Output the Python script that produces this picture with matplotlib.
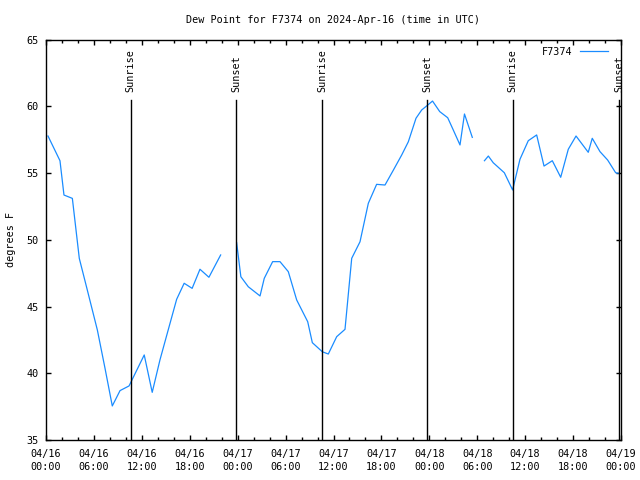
import matplotlib
matplotlib.use("Agg")
import matplotlib.pyplot as plt
import matplotlib.dates as mdates
import matplotlib.transforms as mtransforms
import numpy as np
import pandas as pd

# hours after 2024-04-16 00:00 UTC, NaN marks a gap in the record
hours = [0.25, 1.75, 2.25, 3.3, 4.17, 5.17, 6.43, 7.39, 8.3, 9.27, 10.4, 12.3,
         13.3, 14.27, 15.3, 16.36, 17.3, 18.3, 19.28, 20.4, 21.87,
         22.8,
         23.87, 24.4, 25.33, 26.8, 27.33, 28.38, 29.3, 30.34, 31.39, 32.77,
         33.35, 34.6, 35.35, 36.4, 37.44, 38.28, 39.32, 40.36, 41.4, 42.45,
         43.5, 44.54, 45.37, 46.33, 47.04, 47.8, 48.4, 49.3, 50.3, 51.0,
         51.84, 52.4, 53.38,
         54.2,
         54.9, 55.39, 56.0, 57.39, 58.43, 59.35, 60.39, 61.44, 62.36, 63.4,
         64.45, 65.4, 66.37, 67.9, 68.4, 69.37, 70.33, 71.33, 71.65]
dewpoint = [57.77, 55.92, 53.35, 53.1, 48.6, 46.24, 43.24, 40.37, 37.55, 38.7,
            39.05, 41.37, 38.57, 41.0, 43.24, 45.54, 46.74, 46.36, 47.79,
            47.19, 48.86,
            np.nan,
            49.78, 47.23, 46.48, 45.79, 47.11, 48.36, 48.36, 47.61, 45.49,
            43.86, 42.29, 41.61, 41.44, 42.74, 43.29, 48.61, 49.85, 52.73,
            54.15, 54.1, 55.22, 56.35, 57.34, 59.1, 59.72, 60.09, 60.39, 59.6,
            59.14, 58.22, 57.1, 59.42, 57.67,
            np.nan,
            55.92, 56.27, 55.77, 55.02, 53.73, 56.03, 57.42, 57.85, 55.52,
            55.92, 54.68, 56.78, 57.77, 56.55, 57.6, 56.6, 55.97, 55.02, 54.98]

sunrise_hours = [10.6, 34.55, 58.45]
sunset_hours = [23.8, 47.75, 71.75]

start = pd.Timestamp("2024-04-16 00:00")
times = start + pd.to_timedelta(hours, unit="h")
sunrise = start + pd.to_timedelta(sunrise_hours, unit="h")
sunset = start + pd.to_timedelta(sunset_hours, unit="h")

plt.rcParams['font.family'] = 'DejaVu Sans Mono'
plt.rcParams['font.size'] = 7.3

fig = plt.figure(figsize=(6.4, 4.8), dpi=100)
ax = fig.add_axes([46 / 640, 40 / 480, 575 / 640, 400.5 / 480])

ax.plot(times, dewpoint, color='#1a8cff', lw=0.9, label='F7374')

trans = mtransforms.blended_transform_factory(ax.transData, ax.transAxes)
for t in sunrise:
    ax.axvline(t, ymin=0, ymax=0.85, color='black', lw=1)
    ax.text(t, 0.87, 'Sunrise', transform=trans, rotation=90,
            ha='center', va='bottom')
for t in sunset:
    ax.axvline(t, ymin=0, ymax=0.85, color='black', lw=1)
    ax.text(t, 0.87, 'Sunset', transform=trans, rotation=90,
            ha='center', va='bottom')

ax.set_xlim(start, start + pd.Timedelta(hours=72))
ax.set_ylim(35, 65)
ax.set_yticks(np.arange(35, 66, 5))
ax.xaxis.set_major_locator(mdates.HourLocator(byhour=[0, 6, 12, 18]))
ax.xaxis.set_minor_locator(mdates.HourLocator(interval=2))
ax.xaxis.set_major_formatter(mdates.DateFormatter('%m/%d\n%H:%M'))

ax.tick_params(which='both', direction='in', top=True, right=True, width=1)
ax.tick_params(which='major', length=3.6, pad=5)
ax.tick_params(axis='x', which='major', pad=6.5)
ax.tick_params(which='minor', length=2.2)
for lbl in ax.get_xticklabels():
    lbl.set_linespacing(1.35)
for s in ax.spines.values():
    s.set_linewidth(1)

ax.set_ylabel('degrees F', labelpad=8)
ax.set_title('Dew Point for F7374 on 2024-Apr-16 (time in UTC)',
             fontsize=7.3, pad=12)

ax.legend(loc='upper right', bbox_to_anchor=(1 - 6 / 575, 1.0),
          frameon=False, markerfirst=False,
          handlelength=2.8, borderaxespad=0.3, handletextpad=0.7)

fig.savefig('out.png', dpi=100)
